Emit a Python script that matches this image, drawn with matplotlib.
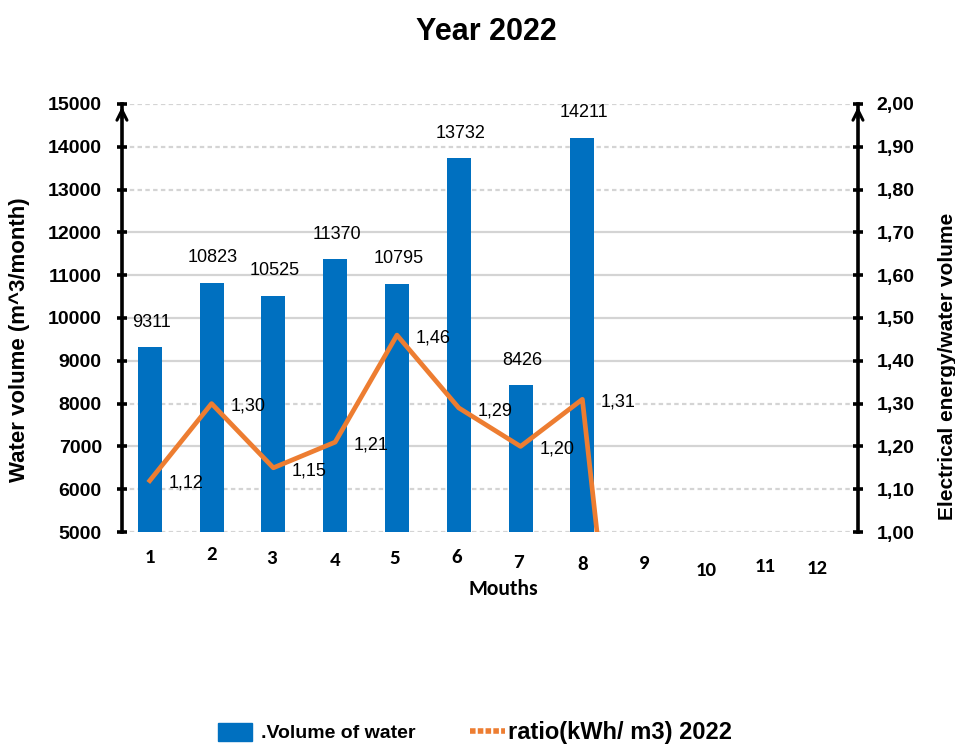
import matplotlib.pyplot as plt
import matplotlib.transforms as mtransforms
from matplotlib.lines import Line2D
from matplotlib.patches import Patch
import numpy as np

plt.rcParams['font.family'] = ['Liberation Sans', 'DejaVu Sans']

# monthly data for 2022
months = list(range(1, 13))
volume_months = [1, 2, 3, 4, 5, 6, 7, 8]
volume = [9311, 10823, 10525, 11370, 10795, 13732, 8426, 14211]
ratio_months = [1, 2, 3, 4, 5, 6, 7, 8, 9]
ratio = [1.12, 1.30, 1.15, 1.21, 1.46, 1.29, 1.20, 1.31, 0.0]
ratio_labels = ['1,12', '1,30', '1,15', '1,21', '1,46', '1,29', '1,20', '1,31']

blue = '#0070C0'
orange = '#ED7D31'

fig = plt.figure(figsize=(9.55, 7.47), dpi=100)
ax = fig.add_axes([0.1277, 0.2878, 0.7707, 0.573])
ax2 = ax.twinx()

ax.set_xlim(0.55, 12.46)
ax.set_ylim(5000, 15000)
ax2.set_ylim(1.0, 2.0)

# light gridlines, some dashed and some solid
grid_vals = np.arange(5000, 15001, 1000)
grid_dashed = [True, True, False, True, False, False, False, False, True, True, True]
for v, d in zip(grid_vals, grid_dashed):
    ax.axhline(v, color='#d4d4d4', lw=1.6, ls=(0, (2, 1.5)) if d else '-', zorder=0)

ax.bar(volume_months, volume, width=0.39, color=blue, zorder=2)
for m, v in zip(volume_months, volume):
    ax.annotate(str(v), (m, v), xytext=(1, 18), textcoords='offset points',
                ha='center', va='center', fontsize=13)

ax2.plot(ratio_months, ratio, color=orange, lw=3.4, zorder=3)
for m, r, lab in zip(ratio_months, ratio, ratio_labels):
    ax2.annotate(lab, (m, r), xytext=(26, -2), textcoords='offset points',
                 ha='center', va='center', fontsize=13)

# spines
for a in (ax, ax2):
    a.spines['top'].set_visible(False)
    a.spines['bottom'].set_visible(False)
    a.spines['left'].set_linewidth(2.6)
    a.spines['right'].set_linewidth(2.6)
ax.spines['right'].set_visible(False)
ax2.spines['left'].set_visible(False)

# arrowheads on top of both vertical axes
for xa in (0, 1):
    ax.annotate('', xy=(xa, 1.0), xytext=(xa, 0.96), xycoords='axes fraction',
                arrowprops=dict(arrowstyle='->', lw=2.2, color='black',
                                mutation_scale=18), annotation_clip=False)

ax.set_yticks(grid_vals)
ax.set_yticklabels([str(v) for v in grid_vals])
r_ticks = np.round(np.arange(1.0, 2.001, 0.1), 2)
ax2.set_yticks(r_ticks)
ax2.set_yticklabels([f'{v:.2f}'.replace('.', ',') for v in r_ticks])
ax.tick_params(axis='y', direction='inout', length=7, width=2.6, labelsize=14, pad=11)
ax2.tick_params(axis='y', direction='inout', length=7, width=2.6, labelsize=14, pad=10)
for lab in ax.get_yticklabels() + ax2.get_yticklabels():
    lab.set_fontweight('bold')

ax.set_xticks(months)
ax.set_xticklabels([str(m) for m in months], fontsize=15, fontweight='bold',
                   family='Carlito')
ax.tick_params(axis='x', length=0, pad=12)
x_shift = [0, 0, -2, 0, -2, -2, -2, 0, 0, 0, -3, -12]
y_shift = [0, 3, -1, -3, -1, 0, -5, -7, -6, -13, -9, -11]
for lab, dx, dy in zip(ax.get_xticklabels(), x_shift, y_shift):
    lab.set_transform(lab.get_transform() +
                      mtransforms.ScaledTranslation(dx / 100, dy / 100, fig.dpi_scale_trans))

ax.set_xlabel('Mouths', fontsize=15.5, fontweight='bold', family='Carlito')
ax.xaxis.set_label_coords(0.5175, -0.11)
ax.set_ylabel('Water volume (m^3/month)', fontsize=16, fontweight='bold',
              ha='center', va='center')
ax.yaxis.set_label_coords(-0.139, 0.449)
ax2.set_ylabel('Electrical energy/water volume', fontsize=15, fontweight='bold',
               ha='center', va='center')
ax2.yaxis.set_label_coords(1.121, 0.386)

fig.text(0.509, 0.957, 'Year 2022', ha='center', va='center', fontsize=22,
         fontweight='bold')

# legend entries placed side by side under the chart
leg1 = fig.legend([Patch(color=blue)], ['.Volume of water'], loc='center left',
                  bbox_to_anchor=(218 / 955, 0.019), frameon=False, borderpad=0,
                  borderaxespad=0, handlelength=1.75, handleheight=1.0,
                  handletextpad=0.45, prop={'size': 14, 'weight': 'bold'})
leg2 = fig.legend([Line2D([], [], color=orange, lw=4, ls=(0, (1, 0.4)))],
                  ['ratio(kWh/ m3) 2022'], loc='center left',
                  bbox_to_anchor=(470 / 955, 0.019), frameon=False, borderpad=0,
                  borderaxespad=0, handlelength=1.5, handletextpad=0.12,
                  prop={'size': 17, 'weight': 'bold'})

fig.savefig('out.png', dpi=100)
